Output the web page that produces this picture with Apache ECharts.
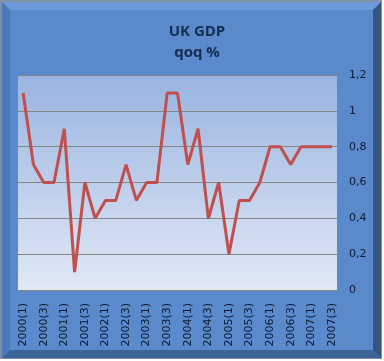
<!DOCTYPE html>
<html>
<head>
<meta charset="utf-8">
<script src="https://cdn.jsdelivr.net/npm/echarts@6/dist/echarts.min.js"></script>
<style>
html,body{margin:0;padding:0;background:#fff;}
#c{width:384px;height:361px;}
</style>
</head>
<body>
<div id="c"></div>
<script>
const categories = [
  '2000(1)','2000(2)','2000(3)','2000(4)',
  '2001(1)','2001(2)','2001(3)','2001(4)',
  '2002(1)','2002(2)','2002(3)','2002(4)',
  '2003(1)','2003(2)','2003(3)','2003(4)',
  '2004(1)','2004(2)','2004(3)','2004(4)',
  '2005(1)','2005(2)','2005(3)','2005(4)',
  '2006(1)','2006(2)','2006(3)','2006(4)',
  '2007(1)','2007(2)','2007(3)'
];
const gdpQoq = [
  1.1, 0.7, 0.6, 0.6,
  0.9, 0.1, 0.6, 0.4,
  0.5, 0.5, 0.7, 0.5,
  0.6, 0.6, 1.1, 1.1,
  0.7, 0.9, 0.4, 0.6,
  0.2, 0.5, 0.5, 0.6,
  0.8, 0.8, 0.7, 0.8,
  0.8, 0.8, 0.8
];
const titleLines = ['UK GDP', 'qoq %'];

const chart = echarts.init(document.getElementById('c'), null, {renderer: 'canvas'});
chart.setOption({
  backgroundColor: '#ffffff',
  animation: false,
  graphic: [
    {type: 'rect', z: -10, shape: {x: 0, y: 0, width: 382, height: 359}, style: {fill: '#7f8fa6'}},
    {type: 'rect', z: -9, shape: {x: 2, y: 2, width: 379, height: 356}, style: {fill: '#5a8acb'}},
    {type: 'polygon', z: -8, shape: {points: [[2,2],[381,2],[373,10],[10,10]]}, style: {fill: '#6d9bd8'}},
    {type: 'polygon', z: -8, shape: {points: [[2,2],[10,10],[10,350],[2,358]]}, style: {fill: '#4a78b8'}},
    {type: 'polygon', z: -8, shape: {points: [[381,2],[381,358],[373,350],[373,10]]}, style: {fill: '#34557f'}},
    {type: 'polygon', z: -8, shape: {points: [[2,358],[10,350],[373,350],[381,358]]}, style: {fill: '#3d6496'}}
  ],
  title: {
    text: titleLines.join('\n'),
    left: 192,
    textAlign: 'center',
    top: 16,
    textStyle: {
      fontFamily: 'Open Sans, DejaVu Sans, sans-serif',
      fontWeight: 'bold',
      fontSize: 15,
      lineHeight: 21,
      color: '#162d52'
    }
  },
  grid: {
    left: 18, right: 47, top: 75, bottom: 71,
    show: true,
    borderWidth: 0,
    backgroundColor: {
      type: 'linear', x: 0, y: 0, x2: 0, y2: 1,
      colorStops: [{offset: 0, color: '#99b4e1'}, {offset: 1, color: '#e1e8f5'}]
    }
  },
  xAxis: {
    type: 'category',
    data: categories,
    boundaryGap: true,
    axisLine: {show: true, lineStyle: {color: '#868686', width: 1}},
    axisTick: {show: false},
    axisLabel: {
      interval: 1,
      rotate: 90,
      margin: 13,
      fontFamily: 'DejaVu Sans, sans-serif',
      fontSize: 11,
      color: '#0d1a33'
    }
  },
  yAxis: {
    type: 'value',
    position: 'right',
    min: 0, max: 1.2, interval: 0.2,
    axisLine: {show: false},
    axisTick: {show: false},
    splitLine: {show: true, lineStyle: {color: '#868686', width: 1}},
    axisLabel: {
      margin: 12,
      fontFamily: 'DejaVu Sans, sans-serif',
      fontSize: 11,
      color: '#0d1a33',
      formatter: v => String(Math.round(v * 10) / 10).replace('.', ',')
    }
  },
  series: [{
    type: 'line',
    data: gdpQoq,
    symbol: 'none',
    lineStyle: {color: '#c0504d', width: 3},
    itemStyle: {color: '#c0504d'}
  }]
});
</script>
</body>
</html>
